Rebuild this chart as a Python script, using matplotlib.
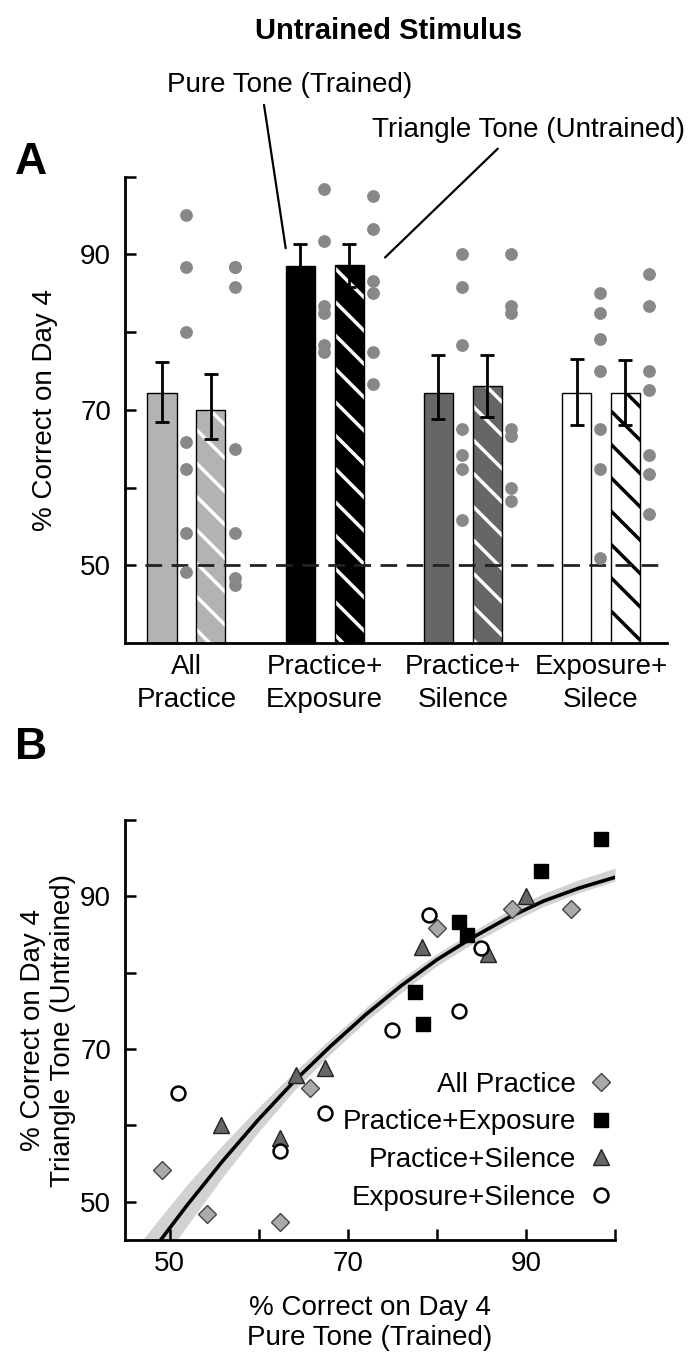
"""Untrained stimulus: bar chart (A) and trained vs untrained scatter (B)."""

import matplotlib

matplotlib.use("Agg")

import matplotlib.pyplot as plt  # noqa: E402
import numpy as np  # noqa: E402

plt.rcParams["font.family"] = ["Liberation Sans", "DejaVu Sans"]
plt.rcParams["hatch.linewidth"] = 2.5

# Groups and bar values (panel A)
groups = ["All Practice", "Practice+Exposure", "Practice+Silence", "Exposure+Silence"]
group_ticklabels = ["All\nPractice", "Practice+\nExposure", "Practice+\nSilence", "Exposure+\nSilece"]
trained_mean = [72.1, 88.5, 72.1, 72.1]
trained_err_lo = [3.7, 2.9, 3.3, 4.1]
trained_err_hi = [4.1, 2.9, 4.9, 4.4]
untrained_mean = [70.0, 88.6, 73.1, 72.1]
untrained_err_lo = [3.7, 2.8, 4.0, 4.0]
untrained_err_hi = [4.6, 2.8, 3.9, 4.3]

# Individual subjects: trained (pure tone) vs untrained (triangle tone)
ap_trained = [49.1, 54.2, 62.4, 65.8, 80.0, 88.4, 95.1]
ap_untrained = [54.2, 48.4, 47.4, 64.9, 85.8, 88.4, 88.4]
pe_trained = [77.5, 78.4, 82.5, 83.4, 91.7, 98.4]
pe_untrained = [77.5, 73.3, 86.6, 85.0, 93.3, 97.5]
ps_trained = [55.8, 62.4, 64.2, 67.5, 78.3, 85.8, 90.0]
ps_untrained = [60.0, 58.3, 66.6, 67.5, 83.4, 82.5, 90.0]
es_trained = [50.9, 62.4, 67.5, 75.0, 79.1, 82.5, 85.0]
es_untrained = [64.2, 56.6, 61.7, 72.5, 87.5, 75.0, 83.3]

# Fitted curve and its confidence band (panel B)
fit_x = [46, 49, 52, 56, 60, 64, 68, 72, 76, 80, 84, 88, 92, 96, 100]
fit_y = [40.2, 45.0, 49.6, 55.4, 60.8, 65.8, 70.3, 74.5, 78.3, 81.7, 84.6, 87.2, 89.4, 91.1, 92.5]
band_lo = [3.4, 3.0, 2.7, 2.1, 1.6, 1.2, 1.0, 0.9, 0.9, 0.8, 0.8, 0.8, 0.7, 0.6, 0.5]
band_hi = [3.4, 3.0, 2.7, 2.1, 1.6, 1.2, 1.0, 0.9, 0.9, 0.8, 0.8, 0.9, 1.0, 1.1, 1.2]

bar_colors = ["#b3b3b3", "#000000", "#666666", "#ffffff"]
hatch_colors = ["#ffffff", "#ffffff", "#ffffff", "#000000"]
subjects = [
    (ap_trained, ap_untrained),
    (pe_trained, pe_untrained),
    (ps_trained, ps_untrained),
    (es_trained, es_untrained),
]

FS = 20

fig = plt.figure(figsize=(6.92, 13.57), dpi=100)

# ---------------- Panel A ----------------
axA = fig.add_axes([0.1806, 0.5262, 0.7832, 0.3436])
x = np.arange(len(groups))
off = 0.177
width = 0.21
dot_off = 0.173

axA.bar(x - off, trained_mean, width, color=bar_colors, edgecolor="black", linewidth=1, zorder=2)
axA.bar(x + off, untrained_mean, width, color=bar_colors, edgecolor=hatch_colors,
        hatch="\\", linewidth=0, zorder=2)
axA.bar(x + off, untrained_mean, width, color="none", edgecolor="black", linewidth=1, zorder=3)
axA.errorbar(x - off, trained_mean, yerr=[trained_err_lo, trained_err_hi], fmt="none",
             ecolor="black", elinewidth=2, capsize=5, capthick=2, zorder=4)
axA.errorbar(x + off, untrained_mean, yerr=[untrained_err_lo, untrained_err_hi], fmt="none",
             ecolor="black", elinewidth=2, capsize=5, capthick=2, zorder=4)

for i, (tr, un) in enumerate(subjects):
    axA.scatter(np.full(len(tr), i - off + dot_off), tr, s=85, color="#888888",
                linewidths=0, zorder=6)
    axA.scatter(np.full(len(un), i + off + dot_off), un, s=85, color="#888888",
                linewidths=0, zorder=6)

axA.plot([-0.3, 3.41], [50, 50], color="#222222", lw=2, ls=(0, (6, 3.4)), zorder=5)

axA.set_xlim(-0.445, 3.477)
axA.set_ylim(40, 100)
axA.set_yticks([50, 60, 70, 80, 90, 100])
axA.set_yticklabels(["50", "", "70", "", "90", ""])
axA.set_xticks(x)
axA.set_xticklabels(group_ticklabels, fontsize=FS, linespacing=1.35)
axA.tick_params(axis="x", length=0, pad=8)
axA.tick_params(axis="y", direction="in", length=8, width=1.8, labelsize=FS, pad=10)
for side in ("top", "right"):
    axA.spines[side].set_visible(False)
for side in ("left", "bottom"):
    axA.spines[side].set_linewidth(2)
axA.set_ylabel("% Correct on Day 4", fontsize=FS, labelpad=16)

axA.annotate("Pure Tone (Trained)", xy=(1 - off - width / 2, 90.8),
             xytext=(0.419, 0.9374), textcoords="figure fraction",
             ha="center", va="center", fontsize=FS,
             arrowprops=dict(arrowstyle="-", lw=1.6, color="black",
                             relpos=(0.39, 0), shrinkA=3, shrinkB=0))
axA.annotate("Triangle Tone (Untrained)", xy=(1.437, 89.6),
             xytext=(0.764, 0.9042), textcoords="figure fraction",
             ha="center", va="center", fontsize=FS,
             arrowprops=dict(arrowstyle="-", lw=1.6, color="black",
                             relpos=(0.42, 0), shrinkA=3, shrinkB=0))

fig.text(0.561, 0.977, "Untrained Stimulus", ha="center", va="center",
         fontsize=21, fontweight="bold")
fig.text(0.045, 0.880, "A", ha="center", va="center", fontsize=32, fontweight="bold")
fig.text(0.045, 0.449, "B", ha="center", va="center", fontsize=32, fontweight="bold")

# ---------------- Panel B ----------------
axB = fig.add_axes([0.1806, 0.0862, 0.7081, 0.3095])
fx = np.array(fit_x)
fy = np.array(fit_y)
axB.fill_between(fx, fy - np.array(band_lo), fy + np.array(band_hi),
                 color="#d2d2d2", linewidth=0, zorder=1)
axB.plot(fx, fy, color="black", lw=2.6, zorder=2)

axB.plot(ap_trained, ap_untrained, ls="none", marker="D", ms=9, mfc="#aaaaaa",
         mec="#444444", mew=1, label="All Practice", zorder=3)
axB.plot(pe_trained, pe_untrained, ls="none", marker="s", ms=10, mfc="black",
         mec="black", mew=1, label="Practice+Exposure", zorder=3)
axB.plot(ps_trained, ps_untrained, ls="none", marker="^", ms=12, mfc="#666666",
         mec="#222222", mew=1, label="Practice+Silence", zorder=3)
axB.plot(es_trained, es_untrained, ls="none", marker="o", ms=10, mfc="white",
         mec="black", mew=1.8, label="Exposure+Silence", zorder=3)

axB.set_xlim(45, 100)
axB.set_ylim(45, 100)
axB.set_xticks([50, 60, 70, 80, 90, 100])
axB.set_xticklabels(["50", "", "70", "", "90", ""])
axB.set_yticks([50, 60, 70, 80, 90, 100])
axB.set_yticklabels(["50", "", "70", "", "90", ""])
axB.tick_params(direction="in", length=8, width=1.8, labelsize=FS)
axB.tick_params(axis="y", pad=10)
axB.tick_params(axis="x", pad=8)
for side in ("top", "right"):
    axB.spines[side].set_visible(False)
for side in ("left", "bottom"):
    axB.spines[side].set_linewidth(2)
axB.set_xlabel("% Correct on Day 4\nPure Tone (Trained)", fontsize=FS, labelpad=13)
axB.set_ylabel("% Correct on Day 4\nTriangle Tone (Untrained)", fontsize=FS, labelpad=3)

leg = axB.legend(loc="lower right", bbox_to_anchor=(1.0, 0.07), markerfirst=False,
                 frameon=False, fontsize=FS, handlelength=1.0, handletextpad=0.4,
                 labelspacing=0.42, borderaxespad=0, borderpad=0)

fig.savefig("out.png", dpi=100)
